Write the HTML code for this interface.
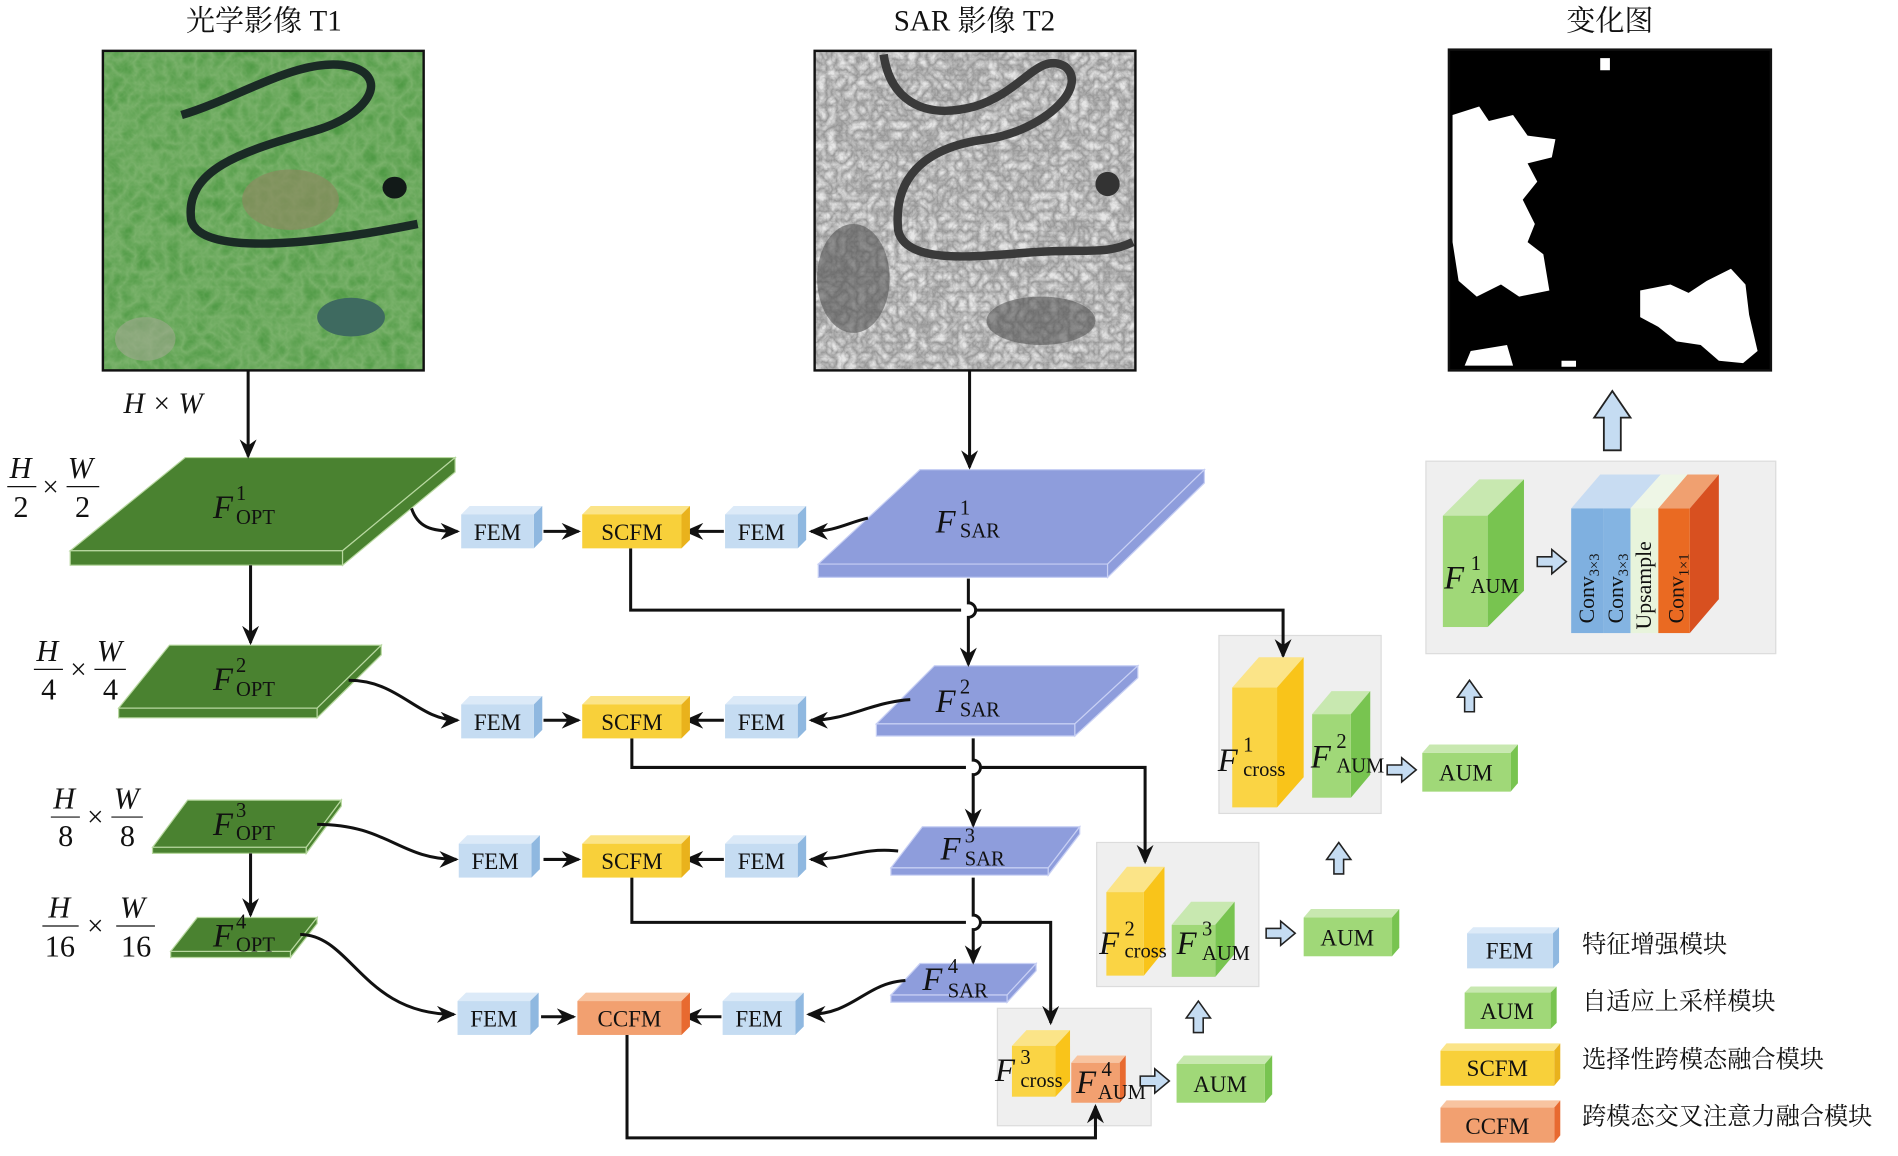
<!DOCTYPE html>
<html><head><meta charset="utf-8"><style>html,body{margin:0;padding:0;background:#fff}svg{display:block}
text{font-family:"Liberation Serif","Noto Serif CJK SC","Noto Sans CJK SC",serif;fill:#111}
.t{font-size:19px;text-anchor:middle}.F{font-style:italic;font-size:27px}.s{font-size:17px}
.cn{font-family:"Liberation Serif","Noto Serif CJK SC",serif;font-size:20px}
</style></head><body>
<svg width="1898" height="1156" viewBox="0 0 1568 955" xmlns="http://www.w3.org/2000/svg">
<defs>
<marker id="a" markerUnits="userSpaceOnUse" markerWidth="16" markerHeight="14" refX="14" refY="7" orient="auto"><path d="M0,0 L16,7 L0,14 L5,7z" fill="#111"/></marker>
<filter id="gn" x="0" y="0" width="1" height="1"><feTurbulence baseFrequency="0.08" numOctaves="3" seed="3"/><feColorMatrix values="0 0 0 0 0.2  0 0 0 0 0.45  0 0 0 0 0.15  0 0 0 -1.2 1"/><feComposite in2="SourceGraphic" operator="in"/></filter>
<filter id="sn" x="0" y="0" width="1" height="1"><feTurbulence baseFrequency="0.12" numOctaves="3" seed="7"/><feColorMatrix values="0 0 0 0 0.3  0 0 0 0 0.3  0 0 0 0 0.3  0 0 0 -1.5 1.05"/><feComposite in2="SourceGraphic" operator="in"/></filter>
</defs>
<rect width="1568" height="955" fill="#fff"/>
<!-- titles -->
<text class="cn" x="218" y="25" text-anchor="middle" style="font-size:24px">光学影像 T1</text>
<text class="cn" x="805" y="25" text-anchor="middle" style="font-size:24px">SAR 影像 T2</text>
<text class="cn" x="1330" y="25" text-anchor="middle" style="font-size:24px">变化图</text>
<!-- optical image -->
<rect x="85" y="42" width="265" height="264" fill="#4f9a45"/>
<rect x="85" y="42" width="265" height="264" fill="#000" filter="url(#gn)"/>
<ellipse cx="240" cy="165" rx="40" ry="25" fill="#8a8a60" opacity=".7"/>
<ellipse cx="290" cy="262" rx="28" ry="16" fill="#3e6a60"/>
<ellipse cx="120" cy="280" rx="25" ry="18" fill="#a0a890" opacity=".6"/>
<ellipse cx="326" cy="155" rx="10" ry="9" fill="#121a18"/>
<path d="M150,95 C200,80 250,45 290,55 C322,64 305,95 260,108 C200,125 152,140 158,182 C166,212 260,202 345,185" fill="none" stroke="#1a2a25" stroke-width="7"/>
<rect x="85" y="42" width="265" height="264" fill="none" stroke="#111" stroke-width="2"/>
<!-- SAR image -->
<rect x="673" y="42" width="265" height="264" fill="#e6e6e6"/>
<rect x="673" y="42" width="265" height="264" fill="#000" filter="url(#sn)"/>
<ellipse cx="705" cy="230" rx="30" ry="45" fill="#555" opacity=".6"/>
<ellipse cx="860" cy="265" rx="45" ry="20" fill="#555" opacity=".6"/>
<ellipse cx="915" cy="152" rx="10" ry="10" fill="#333"/>
<path d="M730,45 C735,80 760,100 805,88 C845,76 858,42 880,55 C900,72 862,108 815,115 C760,122 738,150 742,190 C748,222 820,210 860,208 C900,206 915,210 936,200" fill="none" stroke="#3a3a3a" stroke-width="7"/>
<rect x="673" y="42" width="265" height="264" fill="none" stroke="#111" stroke-width="2"/>
<!-- change map -->
<rect x="1197" y="41" width="266" height="265" fill="#000"/>
<path d="M1200,95 L1222,88 L1230,100 L1250,95 L1262,112 L1285,115 L1282,130 L1262,135 L1270,150 L1258,165 L1268,185 L1262,200 L1275,210 L1280,240 L1255,245 L1240,235 L1220,245 L1205,232 L1200,200 Z" fill="#fff"/>
<path d="M1355,240 L1380,235 L1395,242 L1410,232 L1430,222 L1442,235 L1445,260 L1452,290 L1440,300 L1420,298 L1405,285 L1385,282 L1370,270 L1355,262 Z" fill="#fff"/>
<path d="M1215,290 L1245,285 L1250,302 L1210,302Z M1322,48 h8 v10 h-8z M1290,298 h12 v5 h-12z" fill="#fff"/>
<rect x="1197" y="41" width="266" height="265" fill="none" stroke="#111" stroke-width="2"/>
<!-- big up arrow -->
<path d="M1325,372 V345 H1317 L1332,323 L1347,345 H1339 V372Z" fill="#c5dcf2" stroke="#222" stroke-width="1.5"/>
<!-- HxW -->
<text x="102" y="341" class="F" style="font-size:24px">H × W</text>
<!-- fraction labels -->
<g>
<text x="8" y="395" style="font-size:25px;font-style:italic">H</text><line x1="6" y1="402" x2="30" y2="402" stroke="#111"/><text x="11" y="427" style="font-size:25px">2</text><text x="35" y="410" style="font-size:24px">×</text><text x="56" y="395" style="font-size:25px;font-style:italic">W</text><line x1="55" y1="402" x2="82" y2="402" stroke="#111"/><text x="62" y="427" style="font-size:25px">2</text>
<text x="30" y="546" style="font-size:25px;font-style:italic">H</text><line x1="28" y1="553" x2="52" y2="553" stroke="#111"/><text x="34" y="578" style="font-size:25px">4</text><text x="58" y="561" style="font-size:24px">×</text><text x="80" y="546" style="font-size:25px;font-style:italic">W</text><line x1="78" y1="553" x2="104" y2="553" stroke="#111"/><text x="85" y="578" style="font-size:25px">4</text>
<text x="44" y="668" style="font-size:25px;font-style:italic">H</text><line x1="42" y1="675" x2="66" y2="675" stroke="#111"/><text x="48" y="699" style="font-size:25px">8</text><text x="72" y="683" style="font-size:24px">×</text><text x="94" y="668" style="font-size:25px;font-style:italic">W</text><line x1="92" y1="675" x2="118" y2="675" stroke="#111"/><text x="99" y="699" style="font-size:25px">8</text>
<text x="40" y="758" style="font-size:25px;font-style:italic">H</text><line x1="35" y1="765" x2="65" y2="765" stroke="#111"/><text x="37" y="790" style="font-size:25px">16</text><text x="72" y="773" style="font-size:24px">×</text><text x="99" y="758" style="font-size:25px;font-style:italic">W</text><line x1="96" y1="765" x2="128" y2="765" stroke="#111"/><text x="100" y="790" style="font-size:25px">16</text>
</g>
<!-- gray panels -->
<g fill="#efefef" stroke="#dcdcdc">
<rect x="1007" y="525" width="134" height="147"/><rect x="906" y="696" width="134" height="119"/><rect x="824" y="833" width="127" height="97"/><rect x="1178" y="381" width="289" height="159"/>
</g>
<!-- OPT plates -->
<g stroke="#b8d8a0" stroke-width="1">
<polygon points="58,455 153,378 376,378 283,455" fill="#4a8230"/><polygon points="58,455 283,455 283,467 58,467" fill="#4a8230"/><polygon points="283,455 376,378 376,390 283,467" fill="#4a8230"/>
<polygon points="98,585 140,533 315,533 262,585" fill="#4a8230"/><polygon points="98,585 262,585 262,593 98,593" fill="#4a8230"/><polygon points="262,585 315,533 315,541 262,593" fill="#4a8230"/>
<polygon points="126,700 155,661 282,661 253,700" fill="#4a8230"/><polygon points="126,700 253,700 253,705 126,705" fill="#4a8230"/><polygon points="253,700 282,661 282,666 253,705" fill="#4a8230"/>
<polygon points="141,786 163,758 262,758 240,786" fill="#4a8230"/><polygon points="141,786 240,786 240,791 141,791" fill="#4a8230"/><polygon points="240,786 262,758 262,763 240,791" fill="#4a8230"/>
</g>
<!-- SAR plates -->
<g stroke="#c8d0f4" stroke-width="1" fill="#8e9ddc">
<polygon points="676,466 760,388 995,388 915,466"/><polygon points="676,466 915,466 915,477 676,477"/><polygon points="915,466 995,388 995,399 915,477"/>
<polygon points="724,598 772,550 940,550 888,598"/><polygon points="724,598 888,598 888,608 724,608"/><polygon points="888,598 940,550 940,560 888,608"/>
<polygon points="736,717 762,683 892,683 866,717"/><polygon points="736,717 866,717 866,723 736,723"/><polygon points="866,717 892,683 892,689 866,723"/>
<polygon points="736,822 760,796 856,796 832,822"/><polygon points="736,822 832,822 832,828 736,828"/><polygon points="832,822 856,796 856,802 832,828"/>
</g>
<g>
<text class="F" x="176" y="428">F</text><text x="195" y="413" class="s">1</text><text x="195" y="433" class="s">OPT</text>
<text class="F" x="176" y="570">F</text><text x="195" y="555" class="s">2</text><text x="195" y="575" class="s">OPT</text>
<text class="F" x="176" y="690">F</text><text x="195" y="675" class="s">3</text><text x="195" y="694" class="s">OPT</text>
<text class="F" x="176" y="782">F</text><text x="195" y="767" class="s">4</text><text x="195" y="786" class="s">OPT</text>
<text class="F" x="773" y="440">F</text><text x="793" y="425" class="s">1</text><text x="793" y="444" class="s">SAR</text>
<text class="F" x="773" y="588">F</text><text x="793" y="573" class="s">2</text><text x="793" y="592" class="s">SAR</text>
<text class="F" x="777" y="710">F</text><text x="797" y="696" class="s">3</text><text x="797" y="715" class="s">SAR</text>
<text class="F" x="762" y="818">F</text><text x="783" y="804" class="s">4</text><text x="783" y="824" class="s">SAR</text>
</g>
<!-- connectors -->
<g fill="none" stroke="#111" stroke-width="2.5">
<path d="M205,306 V377" marker-end="url(#a)"/>
<path d="M207,467 V531" marker-end="url(#a)"/>
<path d="M207,705 V756" marker-end="url(#a)"/>
<path d="M801,306 V386" marker-end="url(#a)"/>
<path d="M800,478 V498 a6,6 0 0 1 0,12 V549" marker-end="url(#a)"/>
<path d="M804,610 V628 a6,6 0 0 1 0,12 V682" marker-end="url(#a)"/>
<path d="M804,725 V756 a6,6 0 0 1 0,12 V795" marker-end="url(#a)"/>
<path d="M521,453 V504 H794 M806,504 H1060 V542" marker-end="url(#a)"/>
<path d="M522,610 V634 H798 M810,634 H946 V712" marker-end="url(#a)"/>
<path d="M522,725 V762 H798 M810,762 H868 V845" marker-end="url(#a)"/>
<path d="M518,855 V940 H905 V914" marker-end="url(#a)"/>
<path d="M340,420 C345,435 355,439 378,439" marker-end="url(#a)"/>
<path d="M288,562 C330,562 345,595 378,595" marker-end="url(#a)"/>
<path d="M262,681 C320,681 330,710 377,710" marker-end="url(#a)"/>
<path d="M248,772 C290,772 300,838 375,838" marker-end="url(#a)"/>
<path d="M717,428 C700,432 690,439 670,439" marker-end="url(#a)"/>
<path d="M752,578 C720,580 700,595 670,595" marker-end="url(#a)"/>
<path d="M742,703 C710,700 700,710 670,710" marker-end="url(#a)"/>
<path d="M748,810 C715,812 705,838 668,838" marker-end="url(#a)"/>
<path d="M449,439 H478" marker-end="url(#a)"/><path d="M598,439 H567" marker-end="url(#a)"/>
<path d="M449,595 H478" marker-end="url(#a)"/><path d="M598,595 H567" marker-end="url(#a)"/>
<path d="M449,710 H478" marker-end="url(#a)"/><path d="M598,710 H567" marker-end="url(#a)"/>
<path d="M447,840 H474" marker-end="url(#a)"/><path d="M596,840 H566" marker-end="url(#a)"/>
</g>
<!-- small boxes -->
<g>
<g><polygon points="381,425 388,418 448,418 441,425" fill="#dceaf8"/><polygon points="441,425 448,418 448,446 441,453" fill="#8fb8e0"/><rect x="381" y="425" width="60" height="28" fill="#c5dcf2"/><text x="411" y="446" class="t">FEM</text></g>
<g><polygon points="599,425 606,418 666,418 659,425" fill="#dceaf8"/><polygon points="659,425 666,418 666,446 659,453" fill="#8fb8e0"/><rect x="599" y="425" width="60" height="28" fill="#c5dcf2"/><text x="629" y="446" class="t">FEM</text></g>
<g><polygon points="481,425 488,418 570,418 563,425" fill="#fbe488"/><polygon points="563,425 570,418 570,446 563,453" fill="#e9b21c"/><rect x="481" y="425" width="82" height="28" fill="#f8d03a"/><text x="522" y="446" class="t">SCFM</text></g>
<g><polygon points="381,582 388,575 448,575 441,582" fill="#dceaf8"/><polygon points="441,582 448,575 448,603 441,610" fill="#8fb8e0"/><rect x="381" y="582" width="60" height="28" fill="#c5dcf2"/><text x="411" y="603" class="t">FEM</text></g>
<g><polygon points="599,582 606,575 666,575 659,582" fill="#dceaf8"/><polygon points="659,582 666,575 666,603 659,610" fill="#8fb8e0"/><rect x="599" y="582" width="60" height="28" fill="#c5dcf2"/><text x="629" y="603" class="t">FEM</text></g>
<g><polygon points="481,582 488,575 570,575 563,582" fill="#fbe488"/><polygon points="563,582 570,575 570,603 563,610" fill="#e9b21c"/><rect x="481" y="582" width="82" height="28" fill="#f8d03a"/><text x="522" y="603" class="t">SCFM</text></g>
<g><polygon points="379,697 386,690 446,690 439,697" fill="#dceaf8"/><polygon points="439,697 446,690 446,718 439,725" fill="#8fb8e0"/><rect x="379" y="697" width="60" height="28" fill="#c5dcf2"/><text x="409" y="718" class="t">FEM</text></g>
<g><polygon points="599,697 606,690 666,690 659,697" fill="#dceaf8"/><polygon points="659,697 666,690 666,718 659,725" fill="#8fb8e0"/><rect x="599" y="697" width="60" height="28" fill="#c5dcf2"/><text x="629" y="718" class="t">FEM</text></g>
<g><polygon points="481,697 488,690 570,690 563,697" fill="#fbe488"/><polygon points="563,697 570,690 570,718 563,725" fill="#e9b21c"/><rect x="481" y="697" width="82" height="28" fill="#f8d03a"/><text x="522" y="718" class="t">SCFM</text></g>
<g><polygon points="378,827 385,820 445,820 438,827" fill="#dceaf8"/><polygon points="438,827 445,820 445,848 438,855" fill="#8fb8e0"/><rect x="378" y="827" width="60" height="28" fill="#c5dcf2"/><text x="408" y="848" class="t">FEM</text></g>
<g><polygon points="597,827 604,820 664,820 657,827" fill="#dceaf8"/><polygon points="657,827 664,820 664,848 657,855" fill="#8fb8e0"/><rect x="597" y="827" width="60" height="28" fill="#c5dcf2"/><text x="627" y="848" class="t">FEM</text></g>
<g><polygon points="477,827 484,820 570,820 563,827" fill="#f8c4a0"/><polygon points="563,827 570,820 570,848 563,855" fill="#e86a30"/><rect x="477" y="827" width="86" height="28" fill="#f2a070"/><text x="520" y="848" class="t">CCFM</text></g>
</g>
<!-- panel1 -->
<polygon points="1018,568 1040,543 1077,543 1055,568" fill="#fbe488"/><polygon points="1055,568 1077,543 1077,642 1055,667" fill="#f9c41a"/><rect x="1018" y="568" width="37" height="99" fill="#fad444"/>
<polygon points="1084,590 1100,571 1132,571 1116,590" fill="#c8e8b0"/><polygon points="1116,590 1132,571 1132,640 1116,659" fill="#78c450"/><rect x="1084" y="590" width="32" height="69" fill="#a0d878"/>
<text class="F" x="1006" y="637">F</text><text x="1027" y="621" class="s">1</text><text x="1027" y="641" class="s">cross</text>
<text class="F" x="1083" y="634">F</text><text x="1104" y="618" class="s">2</text><text x="1104" y="638" class="s">AUM</text>
<!-- panel2 -->
<polygon points="914,737 931,716 962,716 945,737" fill="#fbe488"/><polygon points="945,737 962,716 962,785 945,806" fill="#f9c41a"/><rect x="914" y="737" width="31" height="69" fill="#fad444"/>
<polygon points="968,764 984,745 1020,745 1004,764" fill="#c8e8b0"/><polygon points="1004,764 1020,745 1020,788 1004,807" fill="#78c450"/><rect x="968" y="764" width="36" height="43" fill="#a0d878"/>
<text class="F" x="908" y="788">F</text><text x="929" y="773" class="s">2</text><text x="929" y="791" class="s">cross</text>
<text class="F" x="972" y="788">F</text><text x="993" y="773" class="s">3</text><text x="993" y="793" class="s">AUM</text>
<!-- panel3 -->
<polygon points="836,864 848,851 884,851 872,864" fill="#fbe488"/><polygon points="872,864 884,851 884,893 872,906" fill="#f9c41a"/><rect x="836" y="864" width="36" height="42" fill="#fad444"/>
<polygon points="885,878 890,872 930,872 925,878" fill="#f8c4a0"/><polygon points="925,878 930,872 930,905 925,911" fill="#e86a30"/><rect x="885" y="878" width="40" height="33" fill="#f2a070"/>
<text class="F" x="822" y="893">F</text><text x="843" y="879" class="s">3</text><text x="843" y="898" class="s">cross</text>
<text class="F" x="889" y="903">F</text><text x="910" y="889" class="s">4</text><text x="907" y="908" class="s">AUM</text>
<!-- top panel -->
<polygon points="1192,426 1222,396 1259,396 1229,426" fill="#c8e8b0"/><polygon points="1229,426 1259,396 1259,488 1229,518" fill="#78c450"/><rect x="1192" y="426" width="37" height="92" fill="#a0d878"/>
<text class="F" x="1193" y="486">F</text><text x="1215" y="471" class="s">1</text><text x="1215" y="490" class="s">AUM</text>
<polygon points="1298,420 1322,392 1372,392 1347,420" fill="#c8dcf2"/>
<polygon points="1370,420 1394,392 1420,392 1396,420" fill="#f0a070"/><polygon points="1347,420 1372,392 1394,392 1370,420" fill="#eef6e6"/>
<polygon points="1396,420 1420,392 1420,495 1396,523" fill="#d85020"/>
<rect x="1298" y="420" width="27" height="103" fill="#7fb0e0"/><rect x="1325" y="420" width="22" height="103" fill="#84b4e2"/><rect x="1347" y="420" width="23" height="103" fill="#e8f4dc"/><rect x="1370" y="420" width="26" height="103" fill="#ea6a22"/>
<g style="font-size:18px">
<text transform="translate(1317,515) rotate(-90)">Conv<tspan style="font-size:12px" dy="4">3×3</tspan></text>
<text transform="translate(1341,515) rotate(-90)">Conv<tspan style="font-size:12px" dy="4">3×3</tspan></text>
<text transform="translate(1364,520) rotate(-90)">Upsample</text>
<text transform="translate(1391,515) rotate(-90)">Conv<tspan style="font-size:12px" dy="4">1×1</tspan></text>
</g>
<!-- hollow arrows -->
<g fill="#c5dcf2" stroke="#222" stroke-width="1.3">
<path d="M1270,460 h12 v-6 l12,10 l-12,10 v-6 h-12z"/>
<path d="M1146,632 h12 v-6 l12,10 l-12,10 v-6 h-12z"/>
<path d="M1046,767 h12 v-6 l12,10 l-12,10 v-6 h-12z"/>
<path d="M942,889 h12 v-6 l12,10 l-12,10 v-6 h-12z"/>
<path d="M1210,588 v-12 h-6 l10,-14 l10,14 h-6 v12z"/>
<path d="M1102,722 v-12 h-6 l10,-14 l10,14 h-6 v12z"/>
<path d="M986,853 v-12 h-6 l10,-14 l10,14 h-6 v12z"/>
</g>
<!-- AUM boxes -->
<g><polygon points="1175,622 1181,615 1254,615 1248,622" fill="#c8e8b0"/><polygon points="1248,622 1254,615 1254,647 1248,654" fill="#78c450"/><rect x="1175" y="622" width="73" height="32" fill="#a0d878"/><text x="1211" y="645" class="t">AUM</text></g>
<g><polygon points="1077,758 1083,751 1156,751 1150,758" fill="#c8e8b0"/><polygon points="1150,758 1156,751 1156,783 1150,790" fill="#78c450"/><rect x="1077" y="758" width="73" height="32" fill="#a0d878"/><text x="1113" y="781" class="t">AUM</text></g>
<g><polygon points="972,879 978,872 1051,872 1045,879" fill="#c8e8b0"/><polygon points="1045,879 1051,872 1051,904 1045,911" fill="#78c450"/><rect x="972" y="879" width="73" height="32" fill="#a0d878"/><text x="1008" y="902" class="t">AUM</text></g>
<!-- legend -->
<g><polygon points="1212,771 1217,766 1288,766 1283,771" fill="#dceaf8"/><polygon points="1283,771 1288,766 1288,795 1283,800" fill="#8fb8e0"/><rect x="1212" y="771" width="71" height="29" fill="#c5dcf2"/><text x="1247" y="792" class="t">FEM</text></g>
<g><polygon points="1210,820 1215,815 1286,815 1281,820" fill="#c8e8b0"/><polygon points="1281,820 1286,815 1286,845 1281,850" fill="#78c450"/><rect x="1210" y="820" width="71" height="30" fill="#a0d878"/><text x="1245" y="842" class="t">AUM</text></g>
<g><polygon points="1190,868 1195,862 1289,862 1284,868" fill="#fbe488"/><polygon points="1284,868 1289,862 1289,891 1284,897" fill="#e9b21c"/><rect x="1190" y="868" width="94" height="29" fill="#f8d03a"/><text x="1237" y="889" class="t">SCFM</text></g>
<g><polygon points="1190,915 1195,909 1289,909 1284,915" fill="#f8c4a0"/><polygon points="1284,915 1289,909 1289,938 1284,944" fill="#e86a30"/><rect x="1190" y="915" width="94" height="29" fill="#f2a070"/><text x="1237" y="937" class="t">CCFM</text></g>
<g class="cn" style="font-size:20px">
<text x="1307" y="787">特征增强模块</text><text x="1307" y="834">自适应上采样模块</text><text x="1307" y="882">选择性跨模态融合模块</text><text x="1307" y="929">跨模态交叉注意力融合模块</text>
</g>
</svg>
</body></html>
